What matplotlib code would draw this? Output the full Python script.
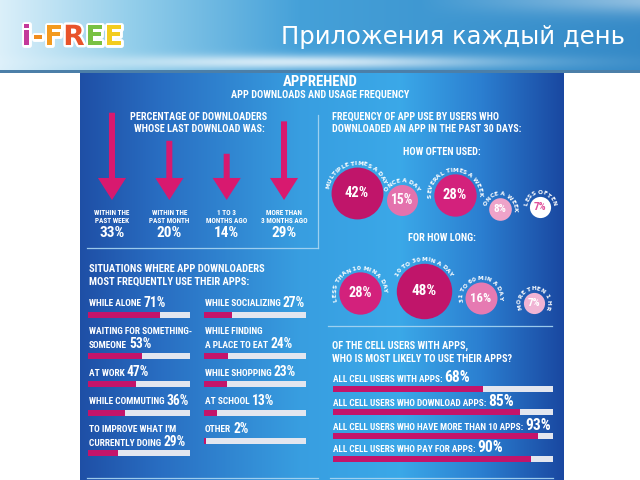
import numpy as np
import matplotlib
matplotlib.use("Agg")
import matplotlib.pyplot as plt
import matplotlib.patheffects as pe
from matplotlib import font_manager
from matplotlib.font_manager import FontProperties
from matplotlib.textpath import TextToPath
from matplotlib.transforms import blended_transform_factory

# ---- values ----
page_title = "Приложения каждый день"
logo_letters = ["i", "-", "F", "R", "E", "E"]
main_title = "APPREHEND"
sub_title = "APP DOWNLOADS AND USAGE FREQUENCY"

last_dl_title = ["PERCENTAGE OF DOWNLOADERS", "WHOSE LAST DOWNLOAD WAS:"]
last_dl_labels = ["WITHIN THE\nPAST WEEK", "WITHIN THE\nPAST MONTH", "1 TO 3\nMONTHS AGO", "MORE THAN\n3 MONTHS AGO"]
last_dl_pct = [33, 20, 14, 29]

freq_title = ["FREQUENCY OF APP USE BY USERS WHO", "DOWNLOADED AN APP IN THE PAST 30 DAYS:"]
often_title = "HOW OFTEN USED:"
often_labels = ["MULTIPLE TIMES A DAY", "ONCE A DAY", "SEVERAL TIMES A WEEK", "ONCE A WEEK", "LESS OFTEN"]
often_pct = [42, 15, 28, 8, 7]
long_title = "FOR HOW LONG:"
long_labels = ["LESS THAN 10 MIN A DAY", "10 TO 30 MIN A DAY", "31 TO 60 MIN A DAY", "MORE THEN 1 HR"]
long_pct = [28, 48, 16, 7]

situ_title = ["SITUATIONS WHERE APP DOWNLOADERS", "MOST FREQUENTLY USE THEIR APPS:"]
situ_left_labels = ["WHILE ALONE", "WAITING FOR SOMETHING-\nSOMEONE", "AT WORK", "WHILE COMMUTING",
                    "TO IMPROVE WHAT I'M\nCURRENTLY DOING"]
situ_left_pct = [71, 53, 47, 36, 29]
situ_right_labels = ["WHILE SOCIALIZING", "WHILE FINDING\nA PLACE TO EAT", "WHILE SHOPPING", "AT SCHOOL", "OTHER"]
situ_right_pct = [27, 24, 23, 13, 2]

likely_title = ["OF THE CELL USERS WITH APPS,", "WHO IS MOST LIKELY TO USE THEIR APPS?"]
likely_labels = ["ALL CELL USERS WITH APPS:", "ALL CELL USERS WHO DOWNLOAD APPS:",
                 "ALL CELL USERS WHO HAVE MORE THAN 10 APPS:", "ALL CELL USERS WHO PAY FOR APPS:"]
likely_pct = [68, 85, 93, 90]

# ---- styling ----
W, H = 640, 480
PINK = "#d8196f"
FILL = "#c4146a"
TRACK = "#e3e6ef"
LINE = "#a9d6f2"

avail = {f.name for f in font_manager.fontManager.ttflist}
FONT, K = "DejaVu Sans", 1.0
for name in ("Liberation Sans Narrow", "Roboto Condensed"):
    if name in avail:
        FONT, K = name, 1.28
        break
BF = dict(family=FONT, fontweight="bold", color="white")

fig = plt.figure(figsize=(6.4, 4.8), dpi=100)
fig.patch.set_facecolor("white")
bg = fig.add_axes([0, 0, 1, 1])
bg.set_axis_off()


def px_axes(x0, y0, x1, y1):
    ax = fig.add_axes([x0 / W, 1 - y1 / H, (x1 - x0) / W, (y1 - y0) / H])
    ax.set_axis_off()
    ax.patch.set_alpha(0)
    return ax


# header strip
X, Y = np.meshgrid(np.arange(640) + 0.5, np.arange(73) + 0.5)
hstops = [0, 130, 300, 640]
hcols = np.array([[0.86, 0.94, 0.98], [0.58, 0.81, 0.92], [0.27, 0.63, 0.85], [0.21, 0.54, 0.78]])
head = np.stack([np.interp(X, hstops, hcols[:, k]) for k in range(3)], axis=-1)
glow = 0.75 * np.exp(-((Y - 62) / 7) ** 2) * np.exp(-((X - 300) / 200) ** 2)
topr = 0.45 * np.exp(-(Y / 14) ** 2) * np.clip((X - 420) / 220, 0, 1)
for w in (glow, topr):
    head = head + (1 - head) * w[..., None]
head[-3:] = [0.30, 0.50, 0.66]
bg.imshow(head, extent=(0, 640, 73, 0), aspect="auto", interpolation="bilinear")

# infographic panel
PX = np.arange(80, 564) + 0.5
pstops = [80, 160, 300, 400, 480, 564]
pcols = np.array([[0.12, 0.31, 0.65], [0.16, 0.43, 0.76], [0.22, 0.62, 0.88],
                  [0.23, 0.66, 0.91], [0.17, 0.50, 0.82], [0.10, 0.28, 0.63]])
prow = np.stack([np.interp(PX, pstops, pcols[:, k]) for k in range(3)], axis=-1)
panel = np.repeat(prow[None, :, :], 407, axis=0)
bg.imshow(panel, extent=(80, 564, 480, 73), aspect="auto", interpolation="bilinear")
bg.set_xlim(0, 640)
bg.set_ylim(480, 0)

# logo: letters chained one after another
logo_c = ["#c4399a", "#f08c1e", "#f39a1e", "#e8532a", "#79c143", "#f3cc1f"]
prev = None
for ch, c in zip(logo_letters, logo_c):
    kw = dict(fontsize=20, fontweight="bold", color=c, family="DejaVu Sans", va="center",
              path_effects=[pe.withStroke(linewidth=3.5, foreground="white")])
    if prev is None:
        prev = bg.text(22, 37, ch, ha="left", **kw)
    else:
        prev = bg.annotate(ch, xy=(1, 0.5), xycoords=prev, xytext=(0.3, 0), textcoords="offset points",
                           ha="left", **kw)
bg.text(625, 37, page_title, fontsize=17.5, color="white", ha="right", va="center", family="DejaVu Sans")

bg.text(320, 82, main_title, fontsize=8.3 * K, ha="center", va="center", **BF)
bg.text(320, 95, sub_title, fontsize=5.8 * K, ha="center", va="center", **BF)

# dividers
for (xa, xb, ya, yb) in [(87, 318, 248, 248), (318, 318, 115, 248), (328, 552, 326, 326),
                         (87, 318, 478, 478), (330, 553, 478, 478)]:
    bg.plot([xa, xb], [ya, yb], color=LINE, lw=0.9, alpha=0.9)


def lines_at(x, y0, lines, size, ha):
    for k, line in enumerate(lines):
        bg.text(x, y0 + k * 12.5, line, fontsize=size * K, ha=ha, va="center", **BF)


lines_at(199, 116.5, last_dl_title, 5.8, "center")
lines_at(332, 116.5, freq_title, 5.7, "left")
lines_at(89, 269, situ_title, 5.9, "left")
lines_at(332, 346, likely_title, 5.8, "left")
bg.text(442, 152, often_title, fontsize=5.8 * K, ha="center", va="center", **BF)
bg.text(442, 238, long_title, fontsize=5.8 * K, ha="center", va="center", **BF)

# arrows: last download
ax_arr = px_axes(83.3, 97.6, 312.7, 200)
ax_arr.set_xlim(-0.5, 3.5)
ax_arr.set_ylim(-7.4, 40)
tr = blended_transform_factory(ax_arr.transData, bg.transData)
for i, (lab, v) in enumerate(zip(last_dl_labels, last_dl_pct)):
    ax_arr.arrow(i, v, 0, -(v + 7.4), width=0.105, head_width=0.49, head_length=10.2,
                 length_includes_head=True, color=PINK, lw=0)
    for k, line in enumerate(lab.split("\n")):
        ax_arr.text(i, 213 + k * 8, line, transform=tr, fontsize=4.1 * K, ha="center", va="center", **BF)
    ax_arr.text(i, 233, f"{v}%", transform=tr, fontsize=8.6 * K, ha="center", va="center", **BF)

# bubbles with text bent round their tops
ttp = TextToPath()
ARC_SIZE = 4.2


def arc_text(cx, cy, R, text, mid):
    prop = FontProperties(family="DejaVu Sans", weight="bold", size=ARC_SIZE)
    em = ARC_SIZE * 100 / 72
    adv = []
    for ch in text:
        if ch == " ":
            adv.append(0.3 * em)
        else:
            w_pt = ttp.get_text_width_height_descent(ch, prop, ismath=False)[0]
            adv.append(w_pt * 100 / 72 + 0.2)
    adv = np.array(adv)
    pos = np.cumsum(adv) - adv / 2 - adv.sum() / 2
    for ch, s in zip(text, pos):
        a = mid - np.rad2deg(s / R)
        t = np.deg2rad(a)
        bg.text(cx + R * np.cos(t), cy - R * np.sin(t), ch, rotation=a - 90, rotation_mode="anchor",
                fontsize=ARC_SIZE, family="DejaVu Sans", fontweight="bold", color="white",
                ha="center", va="center", zorder=4)


S = 33.2
def bubbles(centers, pcts, labels, mids, colors, tcolors, tsizes):
    for (cx, cy), v, lab, mid, c, tc, ts in zip(centers, pcts, labels, mids, colors, tcolors, tsizes):
        bg.scatter([cx], [cy], s=S * v, color=c, lw=0, zorder=3)
        r = np.sqrt(S * v) / 2 * 100 / 72
        bg.text(cx, cy, f"{v}%", fontsize=ts * K, ha="center", va="center", zorder=4,
                family=FONT, fontweight="bold", color=tc)
        arc_text(cx, cy, r + 3.6, lab, mid)


bubbles([(357, 193), (402, 200), (455, 195), (500, 209), (540, 207)], often_pct, often_labels,
        [95, 90, 92, 78, 90],
        ["#c0156a", "#e472ad", "#d3217c", "#eea3c9", "white"],
        ["white"] * 4 + ["#e0509a"], [8.2, 7.6, 8.2, 6.4, 6.2])
bubbles([(360, 293), (424, 291), (481, 298), (534, 303)], long_pct, long_labels,
        [100, 90, 93, 90],
        ["#d3217c", "#c0156a", "#e67ab2", "#f0b4d4"],
        ["white"] * 4, [8.0, 8.6, 7.2, 6.2])


def label_pct(x, ys, label, pct, lsize, psize):
    lines = label.split("\n")
    for y, line in zip(ys[:-1], lines[:-1]):
        bg.text(x, y, line, fontsize=lsize * K, ha="left", va="center", **BF)
    t = bg.text(x, ys[-1], lines[-1], fontsize=lsize * K, ha="left", va="center", **BF)
    bg.annotate(f"{pct}%", xy=(1, 0), xycoords=t, xytext=(1.5, -1.0), textcoords="offset points",
                fontsize=psize * K, ha="left", va="bottom", **BF)


def bar_column(x0, x1, label_x, labels, pcts, label_ys, bar_ys, y_top, y_bot, lsize, psize):
    ax = px_axes(x0, y_top, x1, y_bot)
    ax.set_xlim(0, 100)
    ax.set_ylim(y_bot, y_top)
    ax.barh(bar_ys, [100] * len(pcts), height=6, color=TRACK, lw=0)
    ax.barh(bar_ys, pcts, height=6, color=FILL, lw=0)
    for lab, v, ys in zip(labels, pcts, label_ys):
        label_pct(label_x, ys, lab, v, lsize, psize)


bar_column(88, 190, 89, situ_left_labels, situ_left_pct,
           [[304], [331, 345], [373], [402], [430, 443]], [315, 356, 384, 413, 453], 290, 470, 5.3, 7.6)
bar_column(204, 306, 205, situ_right_labels, situ_right_pct,
           [[304], [331, 345], [373], [402], [430]], [315, 356, 384, 413, 441], 290, 470, 5.3, 7.6)
bar_column(333, 553, 333, likely_labels, likely_pct,
           [[379], [403], [427], [449]], [389, 412, 436, 459], 370, 470, 5.2, 8.8)

fig.savefig("out.png", dpi=100)
